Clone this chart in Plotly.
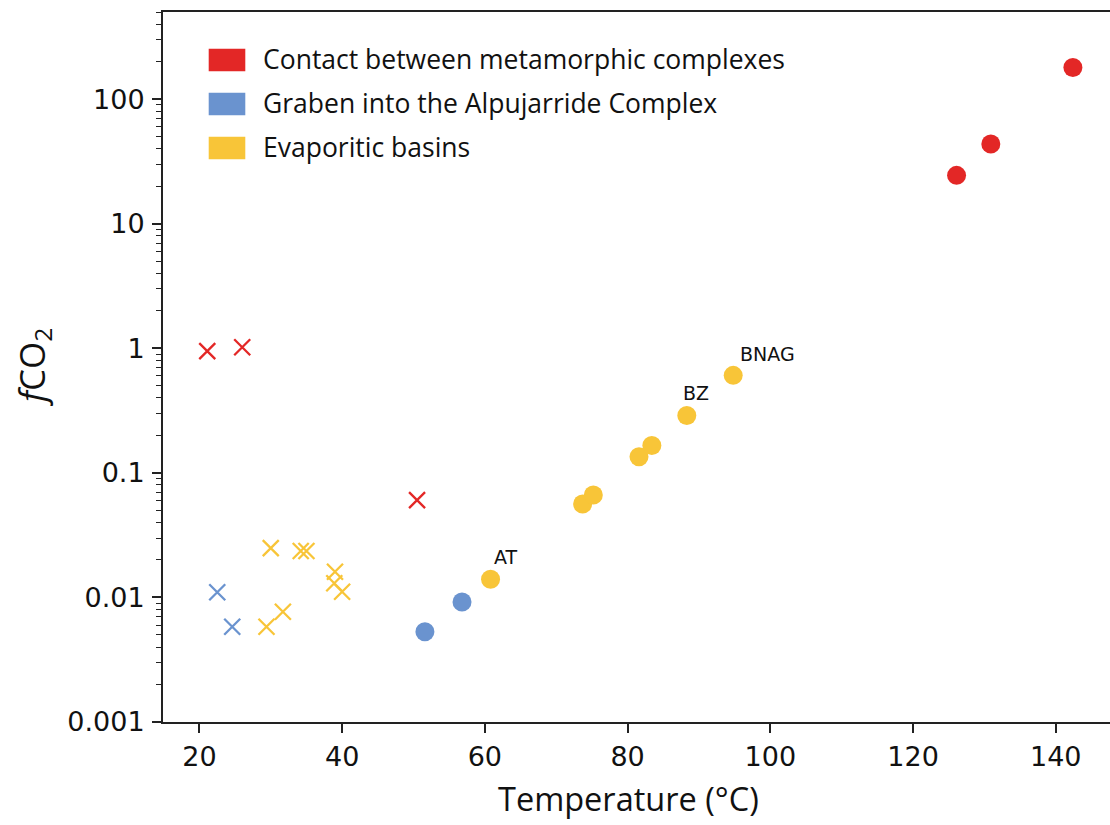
import math
import plotly.graph_objects as go

# ---------------- data ----------------
group_names = ["Contact between metamorphic complexes",
               "Graben into the Alpujarride Complex",
               "Evaporitic basins"]
group_colors = ["#e32726", "#6a93cf", "#f8c538"]

# filled circles
red_circle_T = [126.1, 130.9, 142.4]
red_circle_f = [24.5, 43.8, 180.0]
blue_circle_T = [51.6, 56.8]
blue_circle_f = [0.0053, 0.0092]
yellow_circle_T = [60.8, 73.7, 75.2, 81.6, 83.4, 88.3, 94.8]
yellow_circle_f = [0.0140, 0.0562, 0.0664, 0.135, 0.166, 0.289, 0.607]
yellow_circle_labels = ["AT", "", "", "", "", "BZ", "BNAG"]

# crosses
red_cross_T = [21.1, 26.0, 50.5]
red_cross_f = [0.95, 1.02, 0.0605]
blue_cross_T = [22.5, 24.6]
blue_cross_f = [0.0110, 0.00582]
yellow_cross_T = [30.0, 34.2, 35.0, 39.0, 38.9, 40.0, 29.4, 31.7]
yellow_cross_f = [0.0249, 0.0236, 0.0236, 0.0161, 0.0130, 0.0111, 0.00582, 0.00768]

x_tickvals = [20, 40, 60, 80, 100, 120, 140]
y_tickvals = [0.001, 0.01, 0.1, 1, 10, 100]
y_ticktext = ["0.001", "0.01", "0.1", "1", "10", "100"]

x_title = "Temperature (°C)"
y_title = "<i>f</i>CO<sub>2</sub>"

# ---------------- figure ----------------
W, H = 1110, 825
ML, MR, MT, MB = 163, 0, 12, 103
PW, PH = W - ML - MR, H - MT - MB

fig = go.Figure()

cross_sets = [(red_cross_T, red_cross_f), (blue_cross_T, blue_cross_f), (yellow_cross_T, yellow_cross_f)]
circle_sets = [(red_circle_T, red_circle_f), (blue_circle_T, blue_circle_f), (yellow_circle_T, yellow_circle_f)]

for (tx, fy), name, col in zip(cross_sets, group_names, group_colors):
    fig.add_trace(go.Scatter(
        x=tx, y=fy, mode="markers", name=name, showlegend=False,
        marker=dict(symbol="x-thin", size=16, color=col,
                    line=dict(color=col, width=2.3))))

for (tx, fy), name, col in zip(circle_sets, group_names, group_colors):
    fig.add_trace(go.Scatter(
        x=tx, y=fy, mode="markers", name=name, showlegend=False,
        marker=dict(symbol="circle", size=19, color=col, line=dict(width=0))))

# point labels
label_shift = {"AT": (1, 22), "BZ": (-6, 23), "BNAG": (5, 21)}
for tx, fy, lab in zip(yellow_circle_T, yellow_circle_f, yellow_circle_labels):
    if not lab:
        continue
    dx, dy = label_shift[lab]
    fig.add_annotation(x=tx, y=math.log10(fy), xref="x", yref="y", text=lab,
                       showarrow=False, xanchor="left", yanchor="middle",
                       xshift=dx, yshift=dy,
                       font=dict(family="DejaVu Sans", size=19, color="#111111"))

# manual legend (rectangular patches + text)
leg_patch_x0, leg_patch_x1 = 208.7, 245.3
leg_text_x = 261
leg_row_top = 48.7
leg_patch_h = 22.5
leg_row_step = 44
for i, (name, col) in enumerate(zip(group_names, group_colors)):
    top = leg_row_top + i * leg_row_step
    fig.add_shape(type="rect", xref="paper", yref="paper",
                  x0=(leg_patch_x0 - ML) / PW, x1=(leg_patch_x1 - ML) / PW,
                  y0=(MT + PH - top) / PH, y1=(MT + PH - top - leg_patch_h) / PH,
                  fillcolor=col, line=dict(width=0))
    fig.add_annotation(xref="paper", yref="paper",
                       x=(leg_text_x - ML) / PW,
                       y=(MT + PH - (top + leg_patch_h / 2 - 1)) / PH,
                       text=name, showarrow=False, xanchor="left", yanchor="middle",
                       font=dict(family="Open Sans", size=26.5, color="#111111"))

# x axis title (annotation for precise placement)
fig.add_annotation(xref="paper", yref="paper",
                   x=(628 - ML) / PW, y=(MT + PH - 798) / PH,
                   text=x_title, showarrow=False, xanchor="center", yanchor="middle",
                   font=dict(family="Open Sans", size=32.5, color="#111111"))
# y axis title
fig.add_annotation(xref="paper", yref="paper",
                   x=(33 - ML) / PW, y=(MT + PH - 367) / PH,
                   text=y_title, showarrow=False, xanchor="center", yanchor="middle",
                   textangle=-90,
                   font=dict(family="Open Sans", size=35, color="#111111"))

axis_col = "#222222"
fig.update_layout(
    width=W, height=H, autosize=False,
    margin=dict(l=ML, r=MR, t=MT, b=MB, pad=0),
    paper_bgcolor="white", plot_bgcolor="white",
    showlegend=False,
    xaxis=dict(
        range=[14.9, 147.6], tickvals=x_tickvals,
        ticks="outside", ticklen=9, tickwidth=1.8, tickcolor=axis_col,
        showline=True, linecolor=axis_col, linewidth=2, mirror=True,
        showgrid=False, zeroline=False,
        tickfont=dict(family="DejaVu Sans", size=27, color="#111111"),
        ticklabelstandoff=1,
    ),
    yaxis=dict(
        type="log", range=[-3, math.log10(502)],
        tickvals=y_tickvals, ticktext=y_ticktext,
        ticks="outside", ticklen=9, tickwidth=1.8, tickcolor=axis_col,
        minor=dict(ticks="outside", ticklen=5, tickwidth=1.3, tickcolor=axis_col,
                   dtick="D1", showgrid=False),
        showline=True, linecolor=axis_col, linewidth=2, mirror=False,
        showgrid=False, zeroline=False,
        tickfont=dict(family="DejaVu Sans", size=27, color="#111111"),
        ticklabelstandoff=2,
    ),
)

fig.write_html("out.html")
